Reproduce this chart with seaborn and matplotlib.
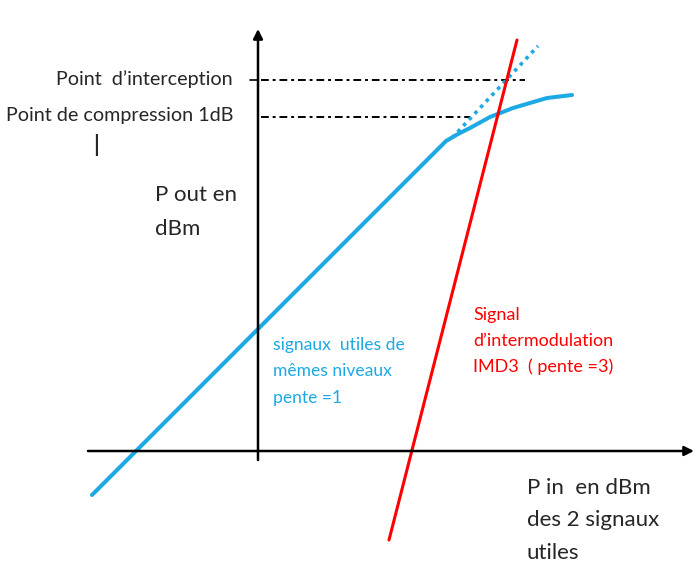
import matplotlib as mpl
mpl.use('Agg')
import matplotlib.pyplot as plt
import numpy as np
import pandas as pd
import seaborn as sns

sns.set_style('white')
plt.rcParams['font.family'] = ['Lato', 'DejaVu Sans']

# ---- data (arbitrary dBm units, origin at axes crossing) ----
# linear part + compression of the useful signal
pin_fund = [-16.6, 18.8, 20.0, 21.2, 23.2, 25.5, 28.9, 31.4]
pout_fund = [-4.4, 31.0, 31.7, 32.3, 33.4, 34.3, 35.3, 35.6]
# ideal (non compressed) extension, dotted
pin_ext = [19.4, 28.0]
pout_ext = [31.3, 40.5]
# third order intermodulation product
pin_imd3 = [13.1, 25.9]
pout_imd3 = [-8.9, 41.1]
# reference levels
level_ip = 37.1
level_p1db = 33.4
x_ip_end = 26.7
x_p1db_end = 21.2

blue = '#1DA9E3'
red = '#FF0000'

fig = plt.figure(figsize=(7, 5.72), dpi=100)
ax = fig.add_axes([0, 0, 1, 1])
ax.set_xlim(-25.8, 44.2)
ax.set_ylim(-12.1, 45.1)
ax.axis('off')

# axes with arrows
ax.annotate('', xy=(43.6, 0), xytext=(-17.0, 0),
            arrowprops=dict(arrowstyle='-|>', color='black', lw=1.8,
                            mutation_scale=14, shrinkA=0, shrinkB=0))
ax.annotate('', xy=(0, 42.2), xytext=(0, -0.9),
            arrowprops=dict(arrowstyle='-|>', color='black', lw=1.8,
                            mutation_scale=14, shrinkA=0, shrinkB=0))
ax.plot([-0.8, 0], [level_ip, level_ip], color='black', lw=1.2)

# dash-dot reference lines
df_ref = pd.DataFrame({'x': [0.3, x_ip_end, 0.3, x_p1db_end],
                       'y': [level_ip, level_ip, level_p1db, level_p1db],
                       'k': ['ip', 'ip', 'p1', 'p1']})
for k, g in df_ref.groupby('k'):
    ax.plot(g['x'], g['y'], color='black', lw=1.4, dashes=(4, 2, 1.5, 2))

# curves
sns.lineplot(x=pin_fund, y=pout_fund, ax=ax, color=blue, lw=2.9, sort=False,
             estimator=None)
sns.lineplot(x=pin_ext, y=pout_ext, ax=ax, color=blue, lw=2.6,
             linestyle=(0, (1, 1.3)), estimator=None)
sns.lineplot(x=pin_imd3, y=pout_imd3, ax=ax, color=red, lw=2.2,
             estimator=None)

fs = 14.2
ax.text(-2.5, level_ip + 0.1, 'Point  d\u2019interception', ha='right', va='center', fontsize=fs)
ax.text(-2.5, level_p1db + 0.2, 'Point de compression 1dB', ha='right', va='center', fontsize=fs)
ax.text(-16.2, 30.6, '|', ha='center', va='center', fontsize=fs + 2, fontweight='bold')
ax.text(-10.3, 25.6, 'P out en', ha='left', va='center', fontsize=16)
ax.text(-10.3, 22.2, 'dBm', ha='left', va='center', fontsize=16)

for i, s in enumerate(['signaux  utiles de', 'mêmes niveaux', 'pente =1']):
    ax.text(1.5, 10.6 - 2.65 * i, s, color=blue, ha='left', va='center', fontsize=12.6)
for i, s in enumerate(['Signal', 'd\u2019intermodulation', 'IMD3  ( pente =3)']):
    ax.text(21.5, 13.6 - 2.6 * i, s, color=red, ha='left', va='center', fontsize=13)
for i, s in enumerate(['P in  en dBm', 'des 2 signaux', 'utiles']):
    ax.text(26.9, -3.7 - 3.25 * i, s, ha='left', va='center', fontsize=16)

fig.savefig('out.png', dpi=100)
